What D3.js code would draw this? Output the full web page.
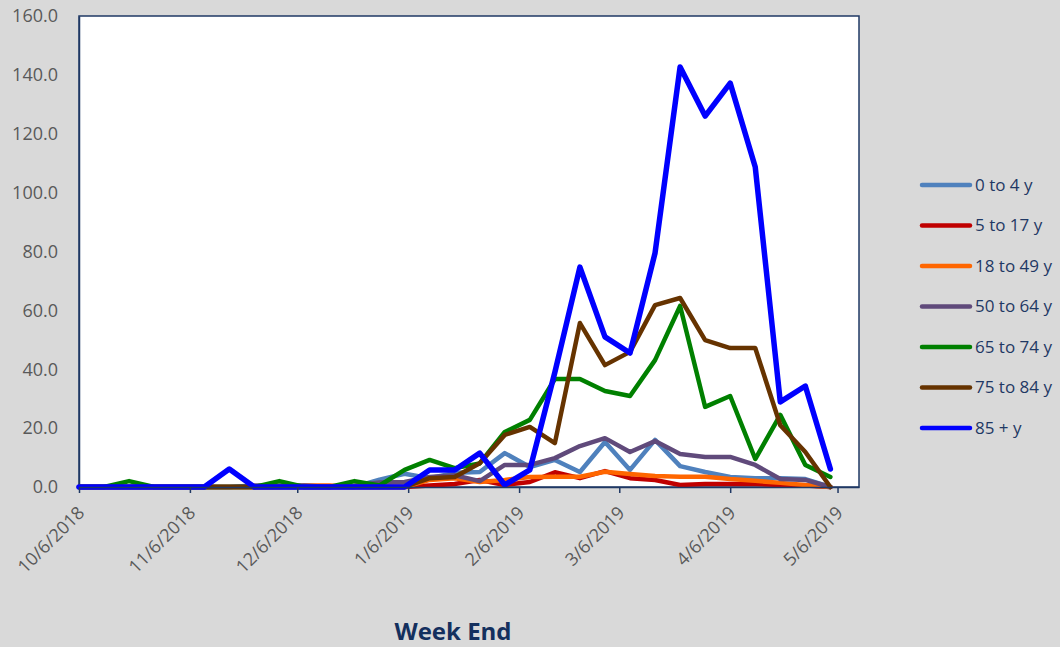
<!DOCTYPE html>
<html>
<head>
<meta charset="utf-8">
<script src="https://cdn.jsdelivr.net/npm/d3@7"></script>
<style>
  html, body { margin: 0; padding: 0; background: #d9d9d9; }
  svg { display: block; }
  text { font-family: "Open Sans", "DejaVu Sans", sans-serif; }
</style>
</head>
<body>
<svg id="chart" width="1060" height="647"></svg>
<script>
// ---- data ----
const weekEnds = [
  "10/6/2018","10/13/2018","10/20/2018","10/27/2018","11/3/2018","11/10/2018","11/17/2018","11/24/2018",
  "12/1/2018","12/8/2018","12/15/2018","12/22/2018","12/29/2018","1/5/2019","1/12/2019","1/19/2019",
  "1/26/2019","2/2/2019","2/9/2019","2/16/2019","2/23/2019","3/2/2019","3/9/2019","3/16/2019",
  "3/23/2019","3/30/2019","4/6/2019","4/13/2019","4/20/2019","4/27/2019","5/4/2019"
];
const seriesNames = ["0 to 4 y","5 to 17 y","18 to 49 y","50 to 64 y","65 to 74 y","75 to 84 y","85 + y"];
const age0to4   = [0,0,0,0,0,0,0,0,0,0,0,0,2.5,4.5,3,4.8,5.1,11.5,6.8,9.2,5.1,15.3,5.8,16,7.1,5.1,3.4,3,3,2.7,0];
const age5to17  = [0,0,0,0,0,0,0,0,0,0,0,0,0,0,0.5,1,2.4,0.7,1.7,5,3,5.4,3,2.4,0.7,1,1,1,0.7,0.5,0];
const age18to49 = [0,0,0,0,0,0,0,0,0,0.5,0.5,0,0,0,2.4,3,1.7,2.4,3.4,3.5,3.5,5.2,4.4,3.7,3.5,3.5,2.7,2.1,1.4,0.7,0];
const age50to64 = [0,0,0,0,0,0,0,0.5,0.5,0.5,0,0.5,1.5,1.7,3.4,4,2,7.5,7.5,9.8,13.9,16.6,11.9,15.6,11.2,10.2,10.2,7.5,2.7,2.4,0];
const age65to74 = [0,0,2,0,0,0,0,0,2,0,0,2,0.5,5.8,9.2,6.4,8,18.7,22.8,36.7,36.7,32.6,30.9,43.1,61.5,27.2,30.9,9.5,24.5,7.5,3.4];
const age75to84 = [0,0,0,0,0,0,0,0,0,0,0,0,0,0,3,3.4,8.1,17.7,20.4,14.9,55.7,41.4,45.9,61.8,64.2,49.9,47.2,47.2,21,11.9,0];
const age85plus = [0,0,0,0,0,0,6.1,0,0,0,0,0,0,0,5.8,5.8,11.5,0.7,5.8,39,74.7,51,45.5,79.5,142.7,126,137.2,108.7,28.9,34.3,6.1];
const xTickLabels = ["10/6/2018","11/6/2018","12/6/2018","1/6/2019","2/6/2019","3/6/2019","4/6/2019","5/6/2019"];
const yTicks = [0,20,40,60,80,100,120,140,160];
const xDomainLabels = ["10/6/2018","5/12/2019"];
const xAxisTitle = "Week End";

// ---- styles ----
const colors = ["#4f81bd","#c00000","#ff6600","#604a7b","#008000","#663300","#0000ff"];
const widths = [4.5,4.5,4.5,4.5,4.5,4.5,5.5];
const navy = "#1f3864";

const allValues = [age0to4, age5to17, age18to49, age50to64, age65to74, age75to84, age85plus];
const parse = d3.utcParse("%m/%d/%Y");
const dates = weekEnds.map(parse);

const plot = {left: 79, right: 859, top: 16, bottom: 487};
const svg = d3.select("#chart");

const x = d3.scaleUtc().domain(xDomainLabels.map(parse)).range([plot.left, plot.right]);
const y = d3.scaleLinear().domain([0,160]).range([plot.bottom, plot.top]);

// plot background
svg.append("rect")
  .attr("x", plot.left).attr("y", plot.top)
  .attr("width", plot.right - plot.left).attr("height", plot.bottom - plot.top)
  .attr("fill", "#ffffff").attr("stroke", navy).attr("stroke-width", 1.5);

// y axis
const yAxis = svg.append("g")
  .attr("transform", `translate(${plot.left},0)`)
  .call(d3.axisLeft(y).tickValues(yTicks).tickFormat(d3.format(".1f")).tickSize(0).tickPadding(21));
yAxis.select(".domain").attr("stroke", navy).attr("stroke-width", 1.5);
yAxis.selectAll("text").attr("fill", "#595959").style("font-size", "18px");

// lines
const line = d3.line().x((d, i) => x(dates[i])).y(d => y(d));
const gLines = svg.append("g");
allValues.forEach((vals, k) => {
  gLines.append("path")
    .datum(vals)
    .attr("d", line)
    .attr("fill", "none")
    .attr("stroke", colors[k])
    .attr("stroke-width", widths[k])
    .attr("stroke-linejoin", "round")
    .attr("stroke-linecap", "round");
});

// x axis
const xAxis = svg.append("g")
  .attr("transform", `translate(0,${plot.bottom})`)
  .call(d3.axisBottom(x).tickValues(xTickLabels.map(parse)).tickFormat(d3.utcFormat("%-m/%-d/%Y")).tickSize(6).tickSizeOuter(0));
xAxis.select(".domain").attr("stroke", navy).attr("stroke-width", 1.5);
xAxis.selectAll(".tick line").attr("stroke", navy).attr("stroke-width", 1.5);
xAxis.selectAll("text")
  .attr("fill", "#595959")
  .style("font-size", "18px")
  .attr("text-anchor", "end")
  .attr("dy", 0)
  .attr("y", 0)
  .attr("transform", "translate(6,27) rotate(-45)");

// x axis title
svg.append("text")
  .attr("x", 453).attr("y", 640)
  .attr("text-anchor", "middle")
  .attr("fill", "#14305e")
  .style("font-size", "24px").style("font-weight", "bold")
  .text(xAxisTitle);

// legend
const legend = svg.append("g");
seriesNames.forEach((name, k) => {
  const ly = 185 + k * 40.5;
  legend.append("line")
    .attr("x1", 922).attr("x2", 970).attr("y1", ly).attr("y2", ly)
    .attr("stroke", colors[k]).attr("stroke-width", 4.5).attr("stroke-linecap", "round");
  legend.append("text")
    .attr("x", 975).attr("y", ly).attr("dy", "0.35em")
    .attr("fill", navy).style("font-size", "17px")
    .text(name);
});
</script>
</body>
</html>
